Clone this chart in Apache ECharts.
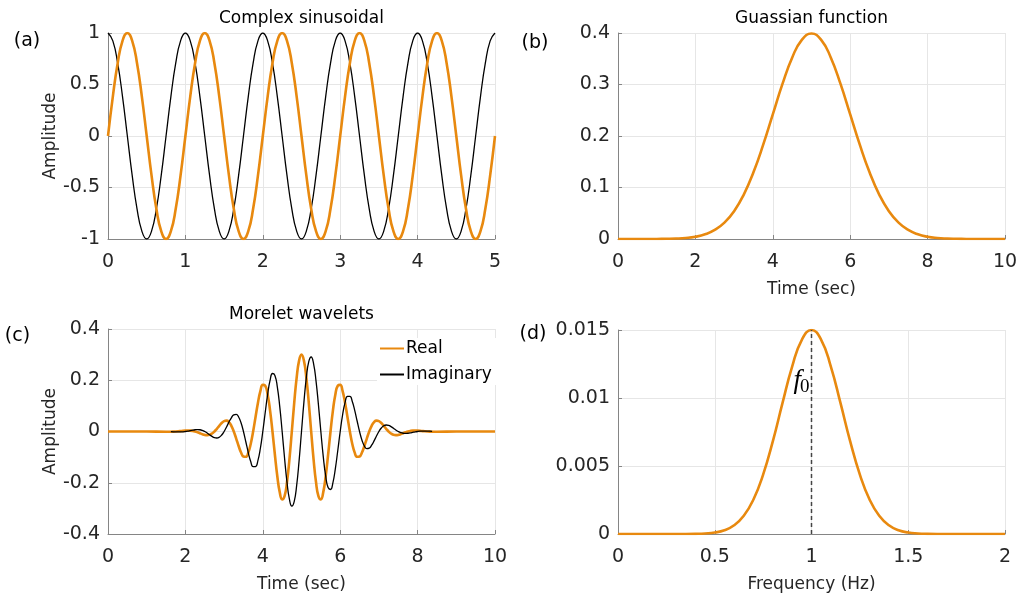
<!DOCTYPE html>
<html>
<head>
<meta charset="utf-8">
<script src="https://cdn.jsdelivr.net/npm/echarts@6/dist/echarts.min.js"></script>
<style>
  html, body { margin: 0; padding: 0; background: #fff; }
  #chart { width: 1021px; height: 597px; }
</style>
</head>
<body>
<div id="chart"></div>
<script>
// (a) complex sinusoid, 1 Hz, sampled every 0.0625 s
const tA = [0,0.0625,0.125,0.1875,0.25,0.3125,0.375,0.4375,0.5,0.5625,0.625,0.6875,0.75,0.8125,0.875,0.9375,
  1,1.0625,1.125,1.1875,1.25,1.3125,1.375,1.4375,1.5,1.5625,1.625,1.6875,1.75,1.8125,1.875,1.9375,
  2,2.0625,2.125,2.1875,2.25,2.3125,2.375,2.4375,2.5,2.5625,2.625,2.6875,2.75,2.8125,2.875,2.9375,
  3,3.0625,3.125,3.1875,3.25,3.3125,3.375,3.4375,3.5,3.5625,3.625,3.6875,3.75,3.8125,3.875,3.9375,
  4,4.0625,4.125,4.1875,4.25,4.3125,4.375,4.4375,4.5,4.5625,4.625,4.6875,4.75,4.8125,4.875,4.9375,5];
const sinCos = [1,0.924,0.707,0.383,0,-0.383,-0.707,-0.924,-1,-0.924,-0.707,-0.383,0,0.383,0.707,0.924,
  1,0.924,0.707,0.383,0,-0.383,-0.707,-0.924,-1,-0.924,-0.707,-0.383,0,0.383,0.707,0.924,
  1,0.924,0.707,0.383,0,-0.383,-0.707,-0.924,-1,-0.924,-0.707,-0.383,0,0.383,0.707,0.924,
  1,0.924,0.707,0.383,0,-0.383,-0.707,-0.924,-1,-0.924,-0.707,-0.383,0,0.383,0.707,0.924,
  1,0.924,0.707,0.383,0,-0.383,-0.707,-0.924,-1,-0.924,-0.707,-0.383,0,0.383,0.707,0.924,1];
const sinSin = [0,0.383,0.707,0.924,1,0.924,0.707,0.383,0,-0.383,-0.707,-0.924,-1,-0.924,-0.707,-0.383,
  0,0.383,0.707,0.924,1,0.924,0.707,0.383,0,-0.383,-0.707,-0.924,-1,-0.924,-0.707,-0.383,
  0,0.383,0.707,0.924,1,0.924,0.707,0.383,0,-0.383,-0.707,-0.924,-1,-0.924,-0.707,-0.383,
  0,0.383,0.707,0.924,1,0.924,0.707,0.383,0,-0.383,-0.707,-0.924,-1,-0.924,-0.707,-0.383,
  0,0.383,0.707,0.924,1,0.924,0.707,0.383,0,-0.383,-0.707,-0.924,-1,-0.924,-0.707,-0.383,0];

// (b) Gaussian envelope in time
const tB = [0,0.25,0.5,0.75,1,1.25,1.5,1.75,2,2.25,2.5,2.75,3,3.25,3.5,3.75,4,4.25,4.5,4.75,5,5.25,5.5,5.75,6,6.25,6.5,6.75,7,7.25,7.5,7.75,8,8.25,8.5,8.75,9,9.25,9.5,9.75,10];
const gaussB = [0,0,0,0,0.0001,0.0004,0.0009,0.0020,0.0044,0.0091,0.0175,0.0317,0.0540,0.0863,0.1295,0.1826,0.2420,0.3011,0.3521,0.3867,0.3989,0.3867,0.3521,0.3011,0.2420,0.1826,0.1295,0.0863,0.0540,0.0317,0.0175,0.0091,0.0044,0.0020,0.0009,0.0004,0.0001,0,0,0,0];

// (c) Morlet wavelet, real and imaginary parts
const tC = [0,0.5,1,
  1.5,1.5625,1.625,1.6875,1.75,1.8125,1.875,1.9375,
  2,2.0625,2.125,2.1875,2.25,2.3125,2.375,2.4375,2.5,2.5625,2.625,2.6875,2.75,2.8125,2.875,2.9375,
  3,3.0625,3.125,3.1875,3.25,3.3125,3.375,3.4375,3.5,3.5625,3.625,3.6875,3.75,3.8125,3.875,3.9375,
  4,4.0625,4.125,4.1875,4.25,4.3125,4.375,4.4375,4.5,4.5625,4.625,4.6875,4.75,4.8125,4.875,4.9375,
  5,5.0625,5.125,5.1875,5.25,5.3125,5.375,5.4375,5.5,5.5625,5.625,5.6875,5.75,5.8125,5.875,5.9375,
  6,6.0625,6.125,6.1875,6.25,6.3125,6.375,6.4375,6.5,6.5625,6.625,6.6875,6.75,6.8125,6.875,6.9375,
  7,7.0625,7.125,7.1875,7.25,7.3125,7.375,7.4375,7.5,7.5625,7.625,7.6875,7.75,7.8125,7.875,7.9375,
  8,8.0625,8.125,8.1875,8.25,8.3125,8.375,8.4375,8.5,
  9,9.5,10];
const waveReal = [0,0,0,
  -0.0007,-0.0007,-0.0007,-0.0005,0,0.0007,0.0016,0.0026,
  0.0033,0.0037,0.0034,0.0022,0,-0.0031,-0.0068,-0.0104,-0.0132,-0.0142,-0.0127,-0.0079,0,0.0105,0.0222,0.0331,
  0.0406,0.0424,0.0366,0.0222,0,-0.0276,-0.0566,-0.0818,-0.0974,-0.0987,-0.0824,-0.0485,0,0.0567,0.1126,0.1576,
  0.1820,0.1786,0.1447,0.0825,0,-0.0907,-0.1745,-0.2366,-0.2648,-0.2519,-0.1977,-0.1093,0,0.1128,0.2105,0.2766,
  0.3000,0.2766,0.2105,0.1128,0,-0.1093,-0.1977,-0.2519,-0.2648,-0.2366,-0.1745,-0.0907,0,0.0825,0.1447,0.1786,
  0.1820,0.1576,0.1126,0.0567,0,-0.0485,-0.0824,-0.0987,-0.0974,-0.0818,-0.0566,-0.0276,0,0.0222,0.0366,0.0424,
  0.0406,0.0331,0.0222,0.0105,0,-0.0079,-0.0127,-0.0142,-0.0132,-0.0104,-0.0068,-0.0031,0,0.0022,0.0034,0.0037,
  0.0033,0.0026,0.0016,0.0007,0,-0.0005,-0.0007,-0.0007,-0.0007,
  0,0,0];
const waveImag = [null,null,null,
  null,null,-0.0007,-0.0011,-0.0015,-0.0018,-0.0016,-0.0011,
  0,0.0015,0.0034,0.0054,0.0068,0.0075,0.0068,0.0043,0,-0.0059,-0.0127,-0.0191,-0.0239,-0.0253,-0.0222,-0.0137,
  0,0.0176,0.0366,0.0536,0.0649,0.0667,0.0566,0.0339,0,-0.0409,-0.0824,-0.1172,-0.1373,-0.1369,-0.1126,-0.0653,
  0,0.0740,0.1447,0.1992,0.2264,0.2189,0.1745,0.0980,0,-0.1043,-0.1977,-0.2640,-0.2908,-0.2724,-0.2105,-0.1146,
  0,0.1146,0.2105,0.2724,0.2908,0.2640,0.1977,0.1043,0,-0.0980,-0.1745,-0.2189,-0.2264,-0.1992,-0.1447,-0.0740,
  0,0.0653,0.1126,0.1369,0.1373,0.1172,0.0824,0.0409,0,-0.0339,-0.0566,-0.0667,-0.0649,-0.0536,-0.0366,-0.0176,
  0,0.0137,0.0222,0.0253,0.0239,0.0191,0.0127,0.0059,0,-0.0043,-0.0068,-0.0075,-0.0068,-0.0054,-0.0034,-0.0015,
  0,0.0011,0.0016,0.0018,0.0015,0.0011,0.0007,null,null,
  null,null,null];

// (d) Gaussian spectrum centred on f0 = 1 Hz
const fD = [0,0.05,0.1,0.15,0.2,0.25,0.3,0.35,0.4,0.45,0.5,0.55,0.6,0.65,0.7,0.75,0.8,0.85,0.9,0.95,1,1.05,1.1,1.15,1.2,1.25,1.3,1.35,1.4,1.45,1.5,1.55,1.6,1.65,1.7,1.75,1.8,1.85,1.9,1.95,2];
const specD = [0,0,0,0,0,0,0,0,0.00001,0.00004,0.00011,0.00028,0.00064,0.00134,0.00254,0.00437,0.00681,0.00962,0.01231,0.01428,0.015,0.01428,0.01231,0.00962,0.00681,0.00437,0.00254,0.00134,0.00064,0.00028,0.00011,0.00004,0.00001,0,0,0,0,0,0,0,0];
const f0 = 1;
const f0Peak = 0.015;

const ORANGE = '#e8890f';
const AXIS = '#858585';
const GRIDLINE = '#e6e6e6';
const FONT = 'DejaVu Sans';

const pairs = (xs, ys) => xs.map((x, i) => [x, ys[i]]);

function xAxisOf(grid, min, max, interval, name) {
  return {
    type: 'value', gridIndex: grid, min, max, interval,
    name: name || '', nameLocation: 'middle', nameGap: 42,
    nameTextStyle: { fontFamily: FONT, fontSize: 17, color: '#262626' },
    axisLine: { show: true, onZero: false, lineStyle: { color: AXIS, width: 1 } },
    axisTick: { show: true, inside: true, length: 4, lineStyle: { color: AXIS } },
    axisLabel: { fontFamily: FONT, fontSize: 19, color: '#262626', margin: 14 },
    splitLine: { show: true, lineStyle: { color: GRIDLINE, width: 1 } }
  };
}
function yAxisOf(grid, min, max, interval, name) {
  return {
    type: 'value', gridIndex: grid, min, max, interval,
    name: name || '', nameLocation: 'middle', nameGap: 48,
    nameTextStyle: { fontFamily: FONT, fontSize: 17, color: '#262626' },
    axisLine: { show: true, lineStyle: { color: AXIS, width: 1 } },
    axisTick: { show: true, inside: true, length: 4, lineStyle: { color: AXIS } },
    axisLabel: { fontFamily: FONT, fontSize: 19, color: '#262626', margin: 8 },
    splitLine: { show: true, lineStyle: { color: GRIDLINE, width: 1 } }
  };
}

const titleStyle = { fontFamily: FONT, fontSize: 17, fontWeight: 'normal', color: '#000' };
const panelLabel = (x, y, text) => ({
  type: 'text', x, y,
  style: { text, fontFamily: FONT, fontSize: 19, fill: '#000', align: 'center', verticalAlign: 'middle' }
});

const chart = echarts.init(document.getElementById('chart'), null, { renderer: 'canvas' });
chart.setOption({
  animation: false,
  backgroundColor: '#fff',
  title: [
    { text: 'Complex sinusoidal', left: 301.5, top: 10, textAlign: 'center', padding: 0, textStyle: titleStyle },
    { text: 'Guassian function', left: 811.5, top: 10, textAlign: 'center', padding: 0, textStyle: titleStyle },
    { text: 'Morelet wavelets', left: 301.5, top: 306, textAlign: 'center', padding: 0, textStyle: titleStyle }
  ],
  grid: [
    { left: 108, right: 526, top: 33, bottom: 358 },
    { left: 618, right: 16, top: 33, bottom: 358 },
    { left: 108, right: 526, top: 329, bottom: 63 },
    { left: 618, right: 16, top: 330, bottom: 63 }
  ],
  xAxis: [
    xAxisOf(0, 0, 5, 1),
    xAxisOf(1, 0, 10, 2, 'Time (sec)'),
    xAxisOf(2, 0, 10, 2, 'Time (sec)'),
    xAxisOf(3, 0, 2, 0.5, 'Frequency (Hz)')
  ],
  yAxis: [
    yAxisOf(0, -1, 1, 0.5, 'Amplitude'),
    yAxisOf(1, 0, 0.4, 0.1),
    yAxisOf(2, -0.4, 0.4, 0.2, 'Amplitude'),
    yAxisOf(3, 0, 0.015, 0.005)
  ],
  legend: {
    data: ['Real', 'Imaginary'],
    orient: 'vertical', left: 377, top: 338,
    itemWidth: 24, itemHeight: 14, itemGap: 9,
    itemStyle: { color: 'rgba(0,0,0,0)', borderWidth: 0, opacity: 0 },
    backgroundColor: '#fff', padding: [2, 6, 2, 2],
    textStyle: { fontFamily: FONT, fontSize: 17, color: '#000', padding: [0, 0, 0, -3] }
  },
  series: [
    { type: 'line', name: 'cos', xAxisIndex: 0, yAxisIndex: 0, data: pairs(tA, sinCos),
      smooth: true, symbol: 'none', lineStyle: { color: '#000', width: 1.3 }, z: 2 },
    { type: 'line', name: 'sin', xAxisIndex: 0, yAxisIndex: 0, data: pairs(tA, sinSin),
      smooth: true, symbol: 'none', lineStyle: { color: ORANGE, width: 2.6 }, z: 3 },
    { type: 'line', name: 'gauss', xAxisIndex: 1, yAxisIndex: 1, data: pairs(tB, gaussB),
      smooth: true, symbol: 'none', lineStyle: { color: ORANGE, width: 2.6 } },
    { type: 'line', name: 'Real', xAxisIndex: 2, yAxisIndex: 2, data: pairs(tC, waveReal),
      smooth: true, symbol: 'none', color: ORANGE, lineStyle: { color: ORANGE, width: 2.6 }, z: 2 },
    { type: 'line', name: 'Imaginary', xAxisIndex: 2, yAxisIndex: 2, data: pairs(tC, waveImag),
      smooth: true, symbol: 'none', color: '#000', lineStyle: { color: '#000', width: 1.3 }, z: 3 },
    { type: 'line', name: 'spectrum', xAxisIndex: 3, yAxisIndex: 3, data: pairs(fD, specD),
      smooth: true, symbol: 'none', lineStyle: { color: ORANGE, width: 2.6 }, z: 2 },
    { type: 'line', name: 'f0', xAxisIndex: 3, yAxisIndex: 3, data: [[f0, 0], [f0, f0Peak]],
      symbol: 'none', lineStyle: { color: '#444', width: 1.5, type: [4, 3] }, z: 4 }
  ],
  graphic: [
    panelLabel(27, 41, '(a)'),
    panelLabel(535, 43, '(b)'),
    panelLabel(17.5, 336, '(c)'),
    panelLabel(533, 334, '(d)'),
    { type: 'text', x: 801, y: 381, z: 10,
      style: { text: 'f', fontFamily: 'Liberation Serif', fontStyle: 'italic', fontSize: 27, fill: '#000', align: 'right', verticalAlign: 'middle' } },
    { type: 'text', x: 800, y: 387, z: 10,
      style: { text: '0', fontFamily: 'Liberation Serif', fontSize: 19, fill: '#000', align: 'left', verticalAlign: 'middle' } }
  ]
});
</script>
</body>
</html>
